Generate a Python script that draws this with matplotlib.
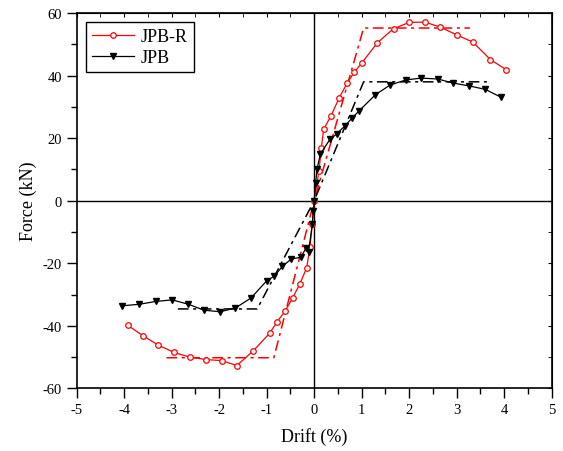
import numpy as np
import matplotlib.pyplot as plt
from matplotlib.ticker import MultipleLocator

plt.rcParams['font.family'] = ['Liberation Serif', 'DejaVu Serif']
plt.rcParams['axes.unicode_minus'] = False

# JPB-R skeleton curve (drift %, force kN)
jpbr_x = [-3.93, -3.6, -3.28, -2.95, -2.62, -2.27, -1.95, -1.63, -1.29, -0.94, -0.79,
          -0.61, -0.45, -0.3, -0.16, -0.09, -0.04, 0.0,
          0.1, 0.15, 0.2, 0.35, 0.52, 0.69, 0.84, 1.0, 1.33, 1.67, 2.0, 2.33, 2.65,
          3.0, 3.34, 3.71, 4.04]
jpbr_y = [-39.8, -43.2, -46.2, -48.5, -50.0, -50.8, -51.1, -52.7, -48.1, -42.4, -38.9,
          -35.2, -31.0, -26.5, -21.5, -14.9, -7.5, 0.0,
          9.5, 16.9, 22.9, 27.0, 32.7, 37.5, 41.0, 44.0, 50.5, 55.0, 57.0, 57.1, 55.5,
          53.0, 50.7, 45.1, 41.9]

# JPB skeleton curve
jpb_x = [-4.04, -3.68, -3.33, -2.99, -2.65, -2.32, -1.98, -1.66, -1.33, -1.0, -0.84,
         -0.67, -0.48, -0.28, -0.17, -0.12, -0.04, -0.02, 0.0,
         0.03, 0.06, 0.13, 0.33, 0.47, 0.65, 0.79, 0.95, 1.29, 1.6, 1.93, 2.25, 2.6,
         2.93, 3.26, 3.6, 3.93]
jpb_y = [-33.6, -33.1, -32.2, -31.7, -33.1, -35.0, -35.5, -34.3, -31.1, -25.6, -24.1,
         -21.0, -18.6, -18.1, -15.0, -16.3, -7.6, -3.3, 0.0,
         5.7, 10.2, 14.9, 19.6, 21.3, 24.0, 26.3, 28.8, 33.9, 37.0, 38.6, 39.2, 38.9,
         37.6, 36.7, 35.6, 33.1]

# idealised bilinear curves
jpbr_bi_x = [-3.11, -0.85, 0.0, 1.04, 3.28]
jpbr_bi_y = [-50.2, -50.2, 0.0, 55.2, 55.2]
jpb_bi_x = [-2.87, -1.2, 0.0, 1.04, 3.64]
jpb_bi_y = [-34.6, -34.6, 0.0, 38.0, 38.0]

fig = plt.figure(figsize=(5.63, 4.52), dpi=100)
ax = fig.add_axes([0.1362, 0.1385, 0.8438, 0.8305])

ax.axhline(0, color='k', lw=1.0, zorder=1)
ax.axvline(0, color='k', lw=1.0, zorder=1)

ax.plot(jpbr_bi_x, jpbr_bi_y, color='red', lw=1.1, dashes=(7, 3, 2, 3))
ax.plot(jpb_bi_x, jpb_bi_y, color='black', lw=1.1, dashes=(7, 3, 2, 3))

ax.plot(jpbr_x, jpbr_y, color='red', lw=0.9, marker='o', ms=4,
        mfc='white', mec='red', mew=0.9, label='JPB-R')
ax.plot(jpb_x, jpb_y, color='black', lw=0.9, marker='v', ms=4.5,
        mfc='black', mec='black', label='JPB')

ax.set_xlim(-5, 5)
ax.set_ylim(-60, 60)
ax.xaxis.set_major_locator(MultipleLocator(1))
ax.xaxis.set_minor_locator(MultipleLocator(0.5))
ax.yaxis.set_major_locator(MultipleLocator(20))
ax.yaxis.set_minor_locator(MultipleLocator(10))
ax.tick_params(which='major', direction='out', length=7, width=1, labelsize=10.5)
ax.tick_params(which='minor', direction='out', length=4, width=1)

# mirrored inward ticks on top and right
top = ax.secondary_xaxis('top')
top.xaxis.set_major_locator(MultipleLocator(1))
top.xaxis.set_minor_locator(MultipleLocator(0.5))
top.tick_params(which='both', direction='in', length=3, labeltop=False)
right = ax.secondary_yaxis('right')
right.yaxis.set_major_locator(MultipleLocator(20))
right.yaxis.set_minor_locator(MultipleLocator(10))
right.tick_params(which='both', direction='in', length=3, labelright=False)

for s in ax.spines.values():
    s.set_linewidth(1.2)

ax.set_xlabel('Drift (%)', fontsize=13, labelpad=8)
ax.set_ylabel('Force (kN)', fontsize=13, labelpad=4)

leg = ax.legend(loc='upper left', fontsize=13, handlelength=2.3, fancybox=False,
                edgecolor='black', framealpha=1, borderpad=0.35,
                labelspacing=0.2, handletextpad=0.4, bbox_to_anchor=(0.0, 1.0),
                borderaxespad=0.5)
leg.get_frame().set_linewidth(1.0)

fig.savefig('out.png', dpi=100)
